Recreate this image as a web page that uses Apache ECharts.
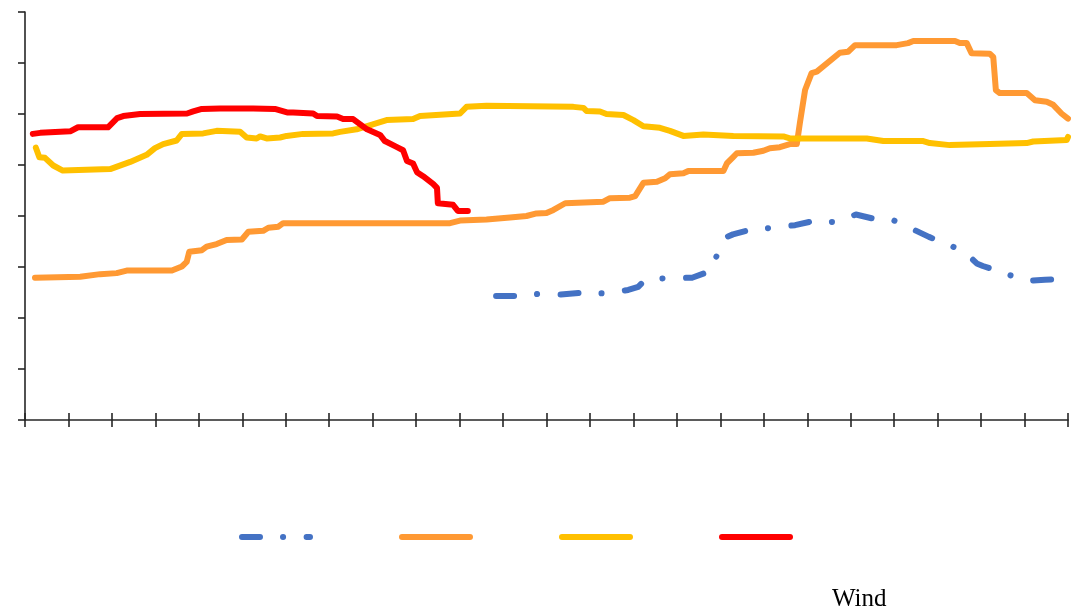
<!DOCTYPE html>
<html>
<head>
<meta charset="utf-8">
<script src="https://cdn.jsdelivr.net/npm/echarts@6/dist/echarts.min.js"></script>
<style>
  html, body { margin: 0; padding: 0; background: #fff; }
  #chart { width: 1071px; height: 610px; }
</style>
</head>
<body>
<div id="chart"></div>
<script>
// series names (legend shows only the line samples)
var seriesNames = ['Series 1', 'Series 2', 'Series 3', 'Series 4'];
var seriesColors = ['#4472C4', '#FF9933', '#FFC000', '#FF0000'];

// x: hour 0..24, y: value 0..8
var blueLine = [
    [10.84, 2.43], [11.32, 2.43], [11.80, 2.47], [12.33, 2.46], [12.84, 2.50],
    [13.35, 2.48], [13.88, 2.55], [14.11, 2.61], [14.25, 2.73], [14.38, 2.77],
    [14.80, 2.78], [15.35, 2.79], [15.74, 2.91], [15.81, 2.98], [15.95, 3.30],
    [16.15, 3.59], [16.29, 3.64], [16.64, 3.72], [17.19, 3.77], [17.72, 3.82],
    [18.13, 3.90], [18.68, 3.88], [19.12, 4.03], [19.51, 3.95], [20.00, 3.91],
    [20.43, 3.74], [20.80, 3.59], [21.31, 3.42], [21.72, 3.22], [21.90, 3.07],
    [22.04, 3.02], [22.53, 2.88], [23.03, 2.73], [23.47, 2.75], [24.00, 2.76]
];

var orangeLine = [
    [0.23, 2.79], [1.27, 2.81], [1.73, 2.86], [2.11, 2.88], [2.34, 2.93],
    [3.38, 2.93], [3.61, 3.01], [3.72, 3.10], [3.78, 3.30], [4.07, 3.33],
    [4.18, 3.40], [4.41, 3.45], [4.64, 3.53], [4.99, 3.54], [5.14, 3.69],
    [5.48, 3.71], [5.60, 3.77], [5.83, 3.79], [5.94, 3.86], [9.78, 3.86],
    [10.01, 3.91], [10.62, 3.93], [11.16, 3.97], [11.54, 4.00], [11.77, 4.05],
    [12.00, 4.06], [12.16, 4.12], [12.43, 4.25], [13.31, 4.28], [13.46, 4.35],
    [13.92, 4.36], [14.04, 4.39], [14.23, 4.65], [14.54, 4.67], [14.73, 4.74],
    [14.84, 4.82], [15.15, 4.84], [15.26, 4.88], [16.07, 4.88], [16.15, 5.03],
    [16.30, 5.16], [16.38, 5.23], [16.76, 5.24], [16.99, 5.28], [17.14, 5.33],
    [17.37, 5.35], [17.60, 5.41], [17.76, 5.41], [17.83, 5.82], [17.95, 6.47],
    [18.10, 6.80], [18.22, 6.83], [18.75, 7.20], [18.94, 7.22], [19.10, 7.35],
    [20.06, 7.35], [20.32, 7.39], [20.44, 7.43], [21.40, 7.43], [21.51, 7.39],
    [21.67, 7.39], [21.78, 7.19], [22.20, 7.18], [22.28, 7.12], [22.34, 6.47],
    [22.43, 6.41], [23.05, 6.41], [23.24, 6.27], [23.51, 6.24], [23.66, 6.18],
    [23.85, 6.01], [24.00, 5.91]
];

var yellowLine = [
    [0.25, 5.34], [0.33, 5.15], [0.46, 5.14], [0.65, 4.99], [0.87, 4.89],
    [1.96, 4.92], [2.42, 5.06], [2.80, 5.20], [2.99, 5.33], [3.18, 5.41],
    [3.49, 5.48], [3.61, 5.61], [4.10, 5.62], [4.41, 5.67], [4.95, 5.65],
    [5.10, 5.54], [5.33, 5.52], [5.41, 5.56], [5.56, 5.52], [5.87, 5.54],
    [6.02, 5.57], [6.40, 5.61], [7.09, 5.62], [7.25, 5.65], [7.63, 5.70],
    [8.32, 5.88], [8.93, 5.90], [9.09, 5.96], [10.01, 6.01], [10.16, 6.14],
    [10.62, 6.16], [12.62, 6.14], [12.85, 6.12], [12.92, 6.06], [13.23, 6.05],
    [13.38, 6.00], [13.77, 5.98], [14.00, 5.88], [14.23, 5.76], [14.61, 5.73],
    [14.84, 5.67], [15.15, 5.57], [15.61, 5.60], [16.30, 5.57], [17.45, 5.56],
    [17.60, 5.52], [19.37, 5.52], [19.75, 5.47], [20.67, 5.47], [20.82, 5.43],
    [21.28, 5.39], [22.20, 5.41], [23.05, 5.43], [23.20, 5.46], [23.97, 5.49],
    [24.00, 5.55]
];

var redLine = [
    [0.18, 5.61], [0.35, 5.63], [1.04, 5.66], [1.22, 5.74], [1.91, 5.74],
    [2.12, 5.92], [2.26, 5.96], [2.65, 6.00], [3.73, 6.01], [3.87, 6.05],
    [4.07, 6.10], [4.49, 6.11], [5.25, 6.11], [5.75, 6.10], [6.03, 6.03],
    [6.17, 6.03], [6.63, 6.01], [6.72, 5.96], [7.18, 5.95], [7.32, 5.90],
    [7.55, 5.90], [7.87, 5.70], [8.17, 5.59], [8.28, 5.47], [8.56, 5.35],
    [8.70, 5.29], [8.79, 5.08], [8.93, 5.03], [9.02, 4.86], [9.16, 4.78],
    [9.39, 4.63], [9.48, 4.55], [9.50, 4.25], [9.85, 4.22], [9.96, 4.10],
    [10.19, 4.10]
];

var seriesData = [blueLine, orangeLine, yellowLine, redLine];
var lineTypes = [[18, 23, 0.1, 23.5], 'solid', 'solid', 'solid'];
var legendLeft = [234, 394, 554, 714];

var myChart = echarts.init(document.getElementById('chart'));

var series = seriesData.map(function (d, i) {
    return {
        name: seriesNames[i],
        type: 'line',
        data: d,
        symbol: 'none',
        animation: false,
        lineStyle: {
            color: seriesColors[i],
            width: 6,
            type: lineTypes[i],
            cap: 'round',
            join: 'round'
        },
        itemStyle: { color: seriesColors[i] }
    };
});

var legends = seriesNames.map(function (n, i) {
    return {
        data: [n],
        left: legendLeft[i],
        top: 525,
        itemWidth: 68,
        itemHeight: 14,
        formatter: function () { return ''; },
        lineStyle: { width: 6, cap: 'round' },
        itemStyle: { opacity: 0, borderWidth: 0 },
        selectedMode: false
    };
});

var axisColor = '#262626';

var option = {
    backgroundColor: '#fff',
    animation: false,
    grid: { left: 25, right: 3, top: 12, bottom: 190 },
    legend: legends,
    xAxis: [{
        type: 'value',
        min: 0, max: 24, interval: 1,
        axisLine: { lineStyle: { color: axisColor, width: 1.6 } },
        axisTick: { show: true, inside: false, length: 7, lineStyle: { color: axisColor, width: 1.6 } },
        axisLabel: { show: false },
        splitLine: { show: false }
    }, {
        type: 'value',
        position: 'bottom',
        min: 0, max: 24, interval: 1,
        axisLine: { show: false },
        axisTick: { show: true, inside: true, length: 7, lineStyle: { color: axisColor, width: 1.6 } },
        axisLabel: { show: false },
        splitLine: { show: false }
    }],
    yAxis: {
        type: 'value',
        min: 0, max: 8, interval: 1,
        axisLine: { show: true, lineStyle: { color: axisColor, width: 1.6 } },
        axisTick: { show: true, inside: false, length: 7, lineStyle: { color: axisColor, width: 1.6 } },
        axisLabel: { show: false },
        splitLine: { show: false }
    },
    graphic: [{
        type: 'text',
        left: 832,
        top: 587,
        style: {
            text: 'Wind',
            font: '25px "Liberation Serif", "Times New Roman", serif',
            fill: '#000'
        }
    }],
    series: series
};

myChart.setOption(option);
window.addEventListener('resize', function () {
    myChart.resize();
});
</script>
</body>
</html>
